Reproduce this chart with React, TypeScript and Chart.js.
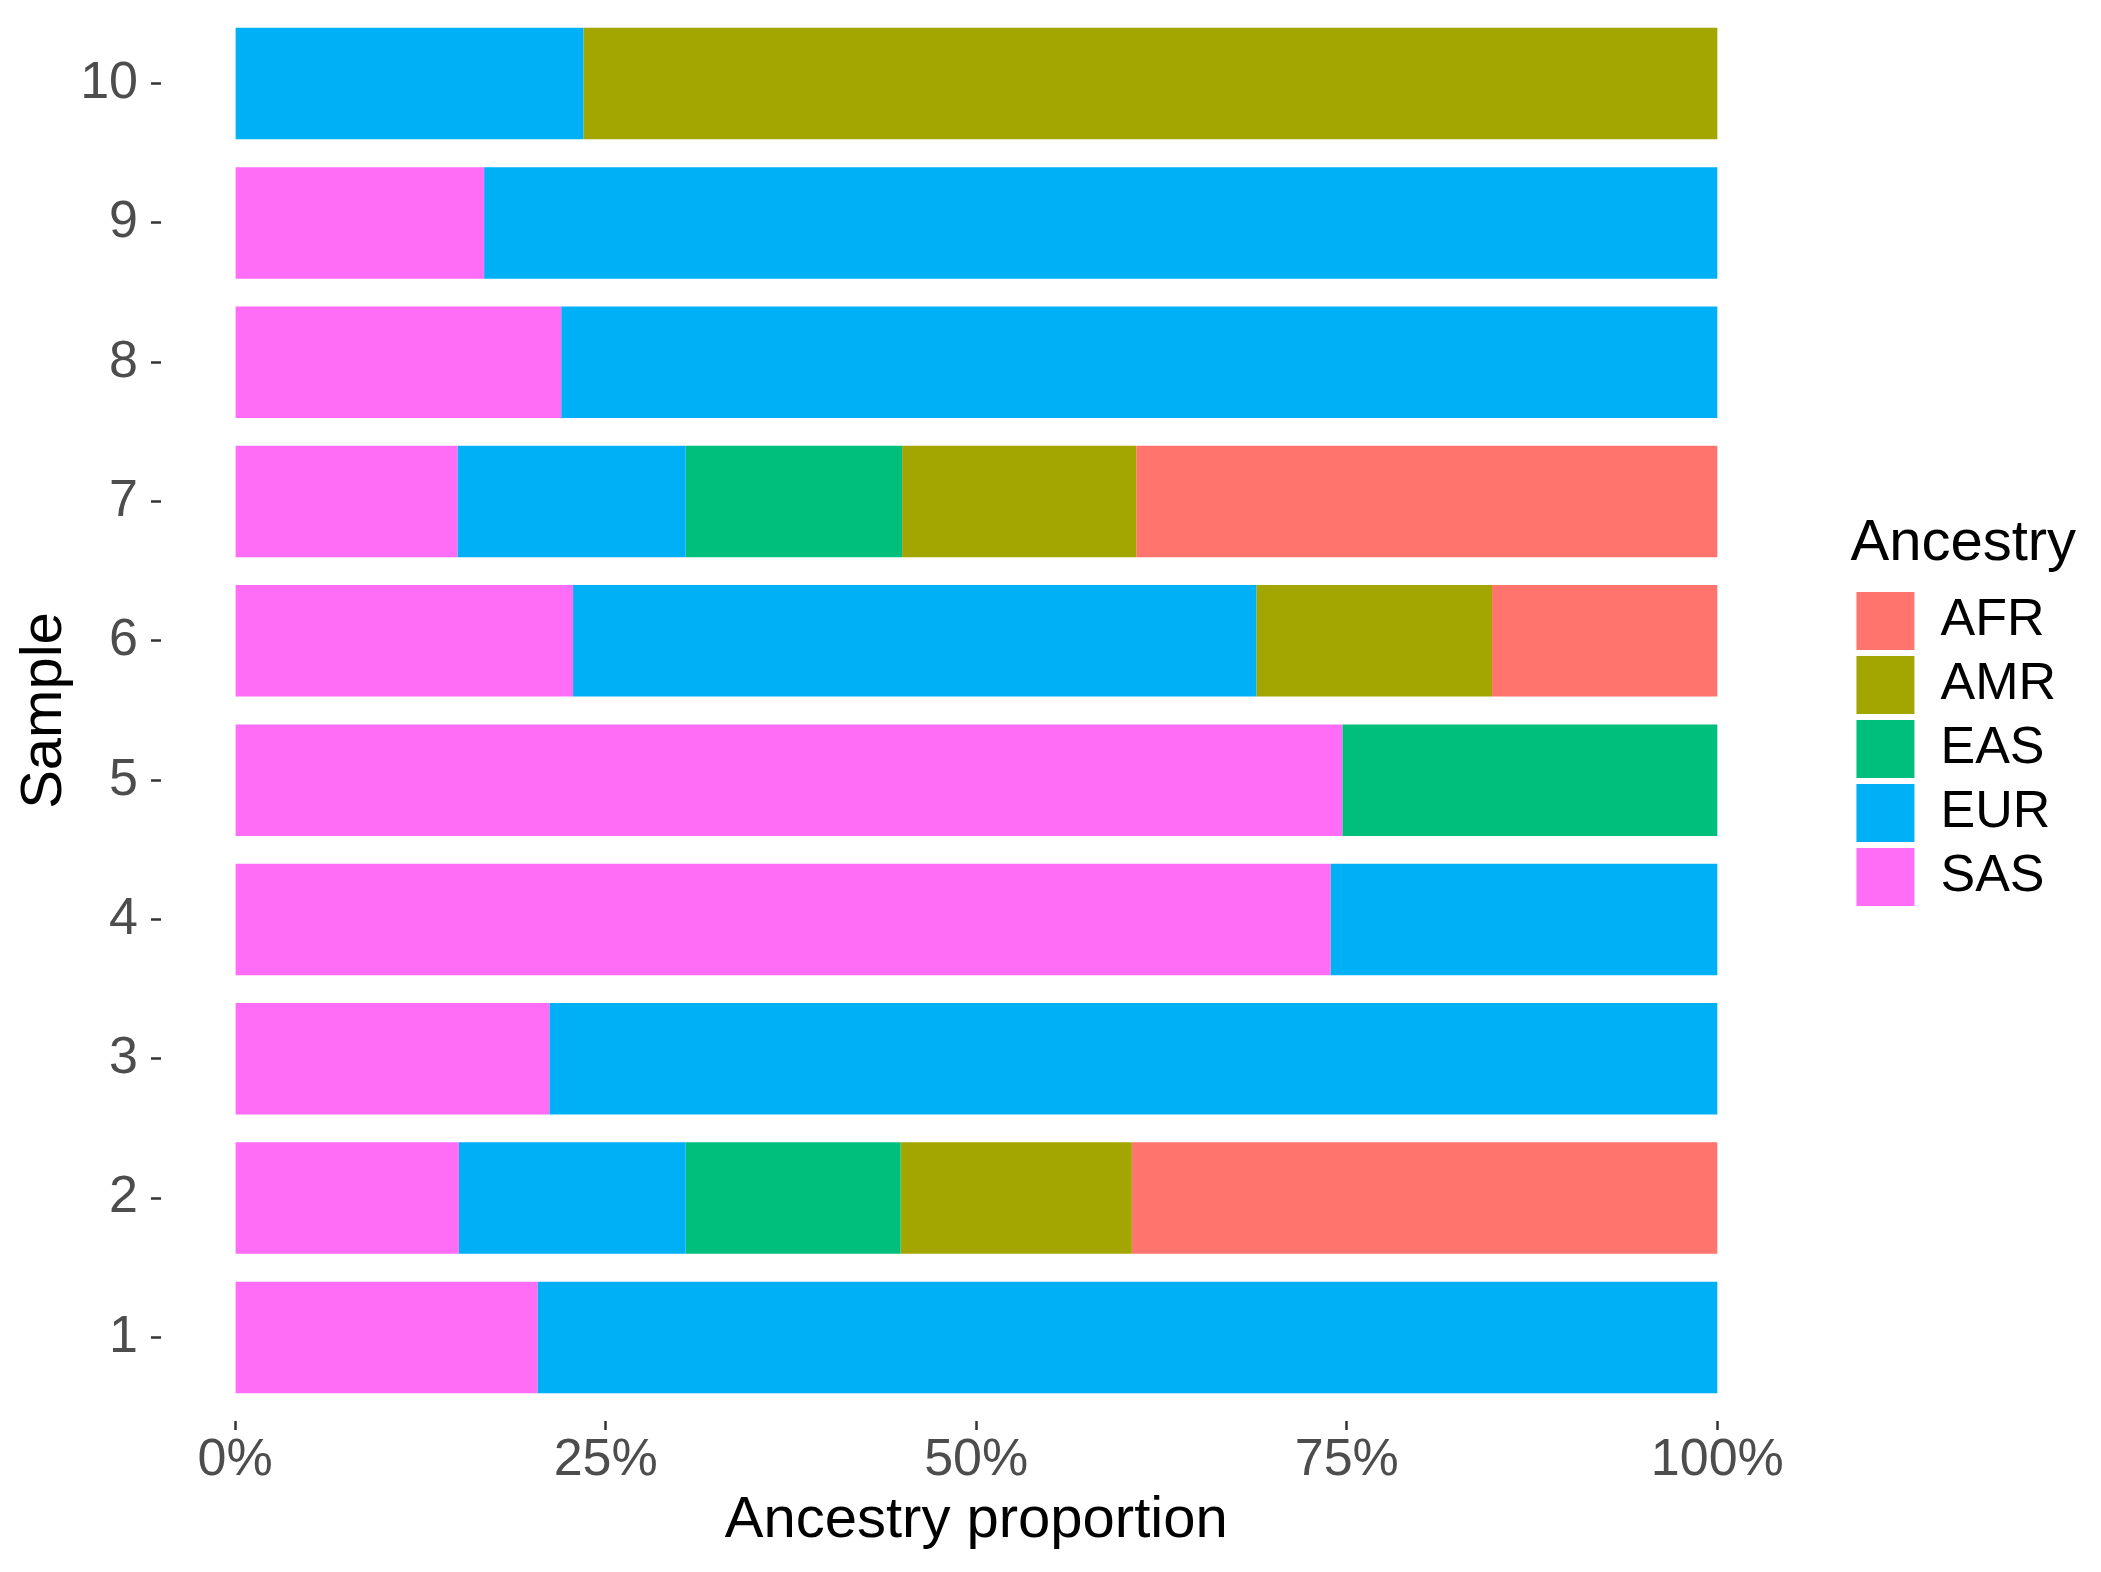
import React, { useEffect, useRef } from 'react';
import { Chart, registerables } from 'chart.js';

Chart.register(...registerables);

const FONT = 'Arial, "Liberation Sans", sans-serif';

// samples on the y axis, bottom to top
const samples = [1, 2, 3, 4, 5, 6, 7, 8, 9, 10];

// stacking order, left to right (legend shows it reversed)
const ancestries = ['SAS', 'EUR', 'EAS', 'AMR', 'AFR'];
const colors = ['#FF6DF6', '#00B0F6', '#00BF7D', '#A3A500', '#FF756D'];

// proportions in %, one value per sample 1..10
const sas = [20.4, 15.1, 21.2, 73.9, 74.7, 22.8, 15.0, 22.0, 16.8, 0];
const eur = [79.6, 15.3, 78.8, 26.1, 0, 46.1, 15.4, 78.0, 83.2, 23.5];
const eas = [0, 14.5, 0, 0, 25.3, 0, 14.6, 0, 0, 0];
const amr = [0, 15.6, 0, 0, 0, 15.9, 15.8, 0, 0, 76.5];
const afr = [0, 39.5, 0, 0, 0, 15.2, 39.2, 0, 0, 0];

const xTicks = [0, 25, 50, 75, 100];

// the legend title is wider than the keys, so give the legend box more room
const legendRoom = {
  id: 'legendRoom',
  beforeInit(chart) {
    const legend = chart.legend;
    const fit = legend.fit;
    legend.fit = function () {
      fit.call(this);
      this.width += 35;
    };
  },
};

const AncestryChart = () => {
  const chartRef = useRef<HTMLCanvasElement>(null);

  useEffect(() => {
    const ctx = chartRef.current.getContext('2d');
    Chart.defaults.font.family = FONT;
    const series = [sas, eur, eas, amr, afr];

    const myChart = new Chart(ctx, {
      type: 'bar',
      data: {
        labels: samples,
        datasets: ancestries.map((name, i) => ({
          label: name,
          data: series[i],
          backgroundColor: colors[i],
          borderWidth: 0,
          xAxisID: 'x',
          yAxisID: 'y',
          categoryPercentage: 1,
          barPercentage: 0.8,
        })),
      },
      options: {
        indexAxis: 'y',
        animation: false,
        responsive: true,
        maintainAspectRatio: false,
        layout: { padding: 0 },
        scales: {
          x: {
            type: 'linear',
            stacked: true,
            min: -5,
            max: 105,
            afterBuildTicks: (s) => {
              s.ticks = xTicks.map((v) => ({ value: v }));
            },
            afterFit: (s) => {
              s.height = 151;
            },
            ticks: {
              autoSkip: false,
              maxRotation: 0,
              padding: 5,
              color: '#4D4D4D',
              font: { size: 52, lineHeight: 1 },
              callback: (v) => v + '%',
            },
            grid: {
              display: true,
              drawOnChartArea: false,
              drawTicks: true,
              tickLength: 9,
              tickColor: '#333333',
              tickWidth: 2.5,
            },
            border: { display: false },
            title: {
              display: true,
              text: 'Ancestry proportion',
              color: '#000000',
              font: { size: 58, lineHeight: 1 },
              padding: { top: 0, bottom: 22 },
            },
          },
          y: {
            type: 'linear',
            stacked: true,
            min: 0.4,
            max: 10.6,
            offset: false,
            afterBuildTicks: (s) => {
              s.ticks = samples.map((v) => ({ value: v }));
            },
            afterFit: (s) => {
              s.width = 161;
              s.paddingTop = 0;
              s.paddingBottom = 0;
            },
            ticks: {
              autoSkip: false,
              padding: 13,
              color: '#4D4D4D',
              font: { size: 52, lineHeight: 1 },
              callback: (v) => String(v),
            },
            grid: {
              display: true,
              offset: false,
              drawOnChartArea: false,
              drawTicks: true,
              tickLength: 10,
              tickColor: '#333333',
              tickWidth: 2.5,
            },
            border: { display: false },
            title: {
              display: true,
              text: 'Sample',
              color: '#000000',
              font: { size: 58, lineHeight: 1 },
              padding: { top: 16, bottom: 0 },
            },
          },
          // empty axis that keeps the gap between the panel and the legend
          gap: {
            type: 'linear',
            position: 'right',
            display: true,
            ticks: { display: false },
            grid: { display: false },
            border: { display: false },
            afterFit: (s) => {
              s.width = 59;
              s.paddingTop = 0;
              s.paddingBottom = 0;
            },
          },
        },
        plugins: {
          legend: {
            position: 'right',
            align: 'center',
            fullSize: false,
            reverse: true,
            labels: {
              boxWidth: 58,
              boxHeight: 58,
              padding: 6,
              color: '#000000',
              font: { size: 52, lineHeight: 1 },
            },
            title: {
              display: true,
              text: 'Ancestry',
              position: 'start',
              color: '#000000',
              font: { size: 58, lineHeight: 1 },
              padding: { top: 6, bottom: 13 },
            },
          },
          tooltip: { enabled: false },
        },
      },
      plugins: [legendRoom],
    });

    return () => {
      myChart.destroy();
    };
  }, []);

  return <canvas ref={chartRef} />;
};

export default function App() {
  return (
    <div style={{ position: 'absolute', left: 0, top: 0, width: 2101, height: 1572, background: '#ffffff' }}>
      <AncestryChart />
    </div>
  );
}
